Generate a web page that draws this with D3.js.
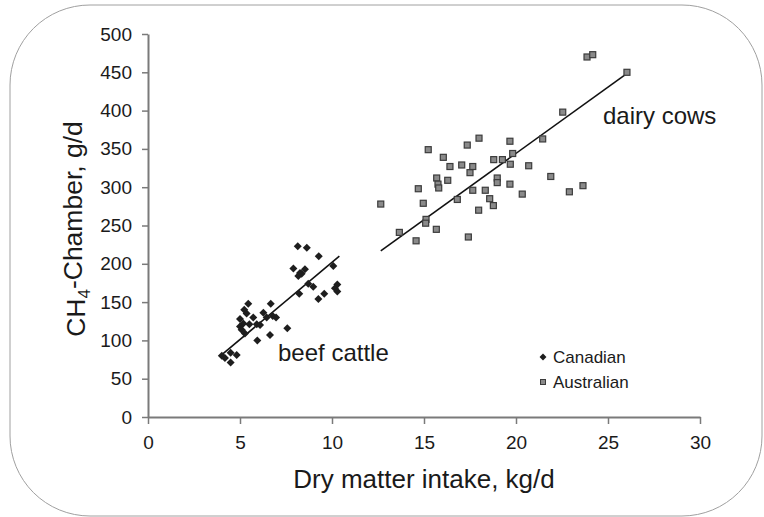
<!DOCTYPE html>
<html>
<head>
<meta charset="utf-8">
<script src="https://cdnjs.cloudflare.com/ajax/libs/d3/7.8.5/d3.min.js"></script>
<style>
html,body{margin:0;padding:0;background:#fff;}
svg{display:block;font-family:"Liberation Sans",Arial,sans-serif;}
</style>
</head>
<body>
<svg id="chart" width="764" height="517"></svg>
<script>
// ---- data ----
const xTicks = [0, 5, 10, 15, 20, 25, 30];
const yTicks = [0, 50, 100, 150, 200, 250, 300, 350, 400, 450, 500];

const canadianDMI = [8.14, 8.63, 9.28, 7.9, 8.26, 8.53, 8.17, 8.35, 10.07, 8.71, 8.98, 8.22, 10.29, 10.16, 10.29, 9.58, 9.26, 6.67, 5.45, 5.23, 5.36, 6.27, 5.72, 5.0, 6.78, 6.96, 5.18, 5.51, 5.91, 6.09, 5.0, 6.45, 5.09, 5.27, 7.57, 6.63, 5.94, 4.01, 4.18, 4.49, 4.82, 4.49];
const canadianCH4 = [223, 221, 210, 194, 188, 193, 184, 187, 197, 174, 170, 161, 173, 168, 164, 161, 154, 148, 148, 140, 135, 136, 130, 128, 132, 130, 122, 121, 121, 120, 118, 130, 114, 109, 116, 107, 100, 80, 77, 84, 81, 71];

const australianDMI = [12.65, 13.66, 14.57, 14.69, 14.96, 15.11, 15.09, 15.23, 15.67, 15.69, 15.76, 15.8, 16.05, 16.29, 16.41, 16.81, 17.05, 17.35, 17.41, 17.5, 17.65, 17.65, 17.99, 17.97, 18.33, 18.57, 18.77, 18.79, 18.98, 18.98, 19.26, 19.67, 19.69, 19.67, 19.82, 20.34, 20.69, 21.45, 21.89, 22.54, 22.9, 23.64, 23.86, 24.17, 26.03];
const australianCH4 = [278, 241, 230, 298, 279, 258, 253, 349, 245, 312, 304, 299, 339, 309, 327, 284, 329, 355, 235, 319, 327, 296, 364, 270, 296, 285, 276, 336, 312, 306, 336, 360, 330, 304, 344, 291, 328, 363, 314, 398, 294, 302, 470, 473, 450];

const beefLineX = [4.0, 10.4];
const beefLineY = [81, 210];
const dairyLineX = [12.65, 26.0];
const dairyLineY = [217, 448];

const legendLabels = ["Canadian", "Australian"];

// ---- layout ----
const svg = d3.select("#chart");
const x = d3.scaleLinear().domain([0, 30]).range([148, 700]);
const y = d3.scaleLinear().domain([0, 500]).range([417, 34]);

// frame
svg.append("rect")
  .attr("x", 10).attr("y", 5).attr("width", 752).attr("height", 511)
  .attr("rx", 80).attr("ry", 80)
  .attr("fill", "none").attr("stroke", "#a0a0a0").attr("stroke-width", 1);

const axisColor = "#7a7a7a";
const textColor = "#1a1a1a";

// y axis
const yAxis = svg.append("g").attr("transform", "translate(148,0)")
  .call(d3.axisLeft(y).tickValues(yTicks).tickSize(6).tickPadding(10).tickSizeOuter(0));
// x axis
const xAxis = svg.append("g").attr("transform", "translate(0,417)")
  .call(d3.axisBottom(x).tickValues(xTicks).tickSize(7).tickPadding(12).tickSizeOuter(0));

[yAxis, xAxis].forEach(g => {
  g.select(".domain").attr("stroke", axisColor).attr("stroke-width", 2);
  g.selectAll(".tick line").attr("stroke", axisColor).attr("stroke-width", 1.5);
  g.selectAll(".tick text").attr("fill", textColor)
    .style("font-size", "19px").style("font-family", "'Liberation Sans', Arial, sans-serif");
});

// axis titles
svg.append("text")
  .attr("x", 424).attr("y", 488)
  .attr("text-anchor", "middle")
  .attr("fill", textColor)
  .style("font-size", "26px")
  .text("Dry matter intake, kg/d");

const yt = svg.append("text")
  .attr("transform", "translate(85,229) rotate(-90)")
  .attr("text-anchor", "middle")
  .attr("fill", textColor)
  .style("font-size", "26.5px");
yt.append("tspan").text("CH");
yt.append("tspan").text("4").style("font-size", "17px").attr("dy", "0.3em");
yt.append("tspan").text("-Chamber, g/d").attr("dy", "-0.3em");

// regression lines
const line = d3.line().x(d => x(d[0])).y(d => y(d[1]));
svg.append("path").datum(d3.zip(beefLineX, beefLineY)).attr("d", line)
  .attr("fill", "none").attr("stroke", "#111").attr("stroke-width", 1.6);
svg.append("path").datum(d3.zip(dairyLineX, dairyLineY)).attr("d", line)
  .attr("fill", "none").attr("stroke", "#111").attr("stroke-width", 1.6);

// points
const diamond = d3.symbol().type(d3.symbolSquare).size(32);
svg.append("g").selectAll("path")
  .data(d3.zip(canadianDMI, canadianCH4))
  .join("path")
  .attr("d", diamond)
  .attr("transform", d => `translate(${x(d[0])},${y(d[1])}) rotate(45)`)
  .attr("fill", "#1e1e1e");

svg.append("g").selectAll("rect")
  .data(d3.zip(australianDMI, australianCH4))
  .join("rect")
  .attr("x", d => x(d[0]) - 3)
  .attr("y", d => y(d[1]) - 3)
  .attr("width", 6).attr("height", 6)
  .attr("fill", "#8a8a8a").attr("stroke", "#3c3c3c").attr("stroke-width", 1.2);

// group labels
svg.append("text").attr("x", 603).attr("y", 124).attr("fill", textColor)
  .style("font-size", "24px").text("dairy cows");
svg.append("text").attr("x", 278).attr("y", 361).attr("fill", textColor)
  .style("font-size", "24px").text("beef cattle");

// legend
const lg = svg.append("g");
lg.append("path").attr("d", d3.symbol().type(d3.symbolSquare).size(24))
  .attr("transform", "translate(543,357) rotate(45)").attr("fill", "#1e1e1e");
lg.append("rect").attr("x", 540.5).attr("y", 379.5).attr("width", 5).attr("height", 5)
  .attr("fill", "#8a8a8a").attr("stroke", "#3c3c3c").attr("stroke-width", 1);
lg.selectAll("text").data(legendLabels).join("text")
  .attr("x", 553).attr("y", (d, i) => 363 + i * 25)
  .attr("fill", textColor).style("font-size", "17px").text(d => d);
</script>
</body>
</html>
